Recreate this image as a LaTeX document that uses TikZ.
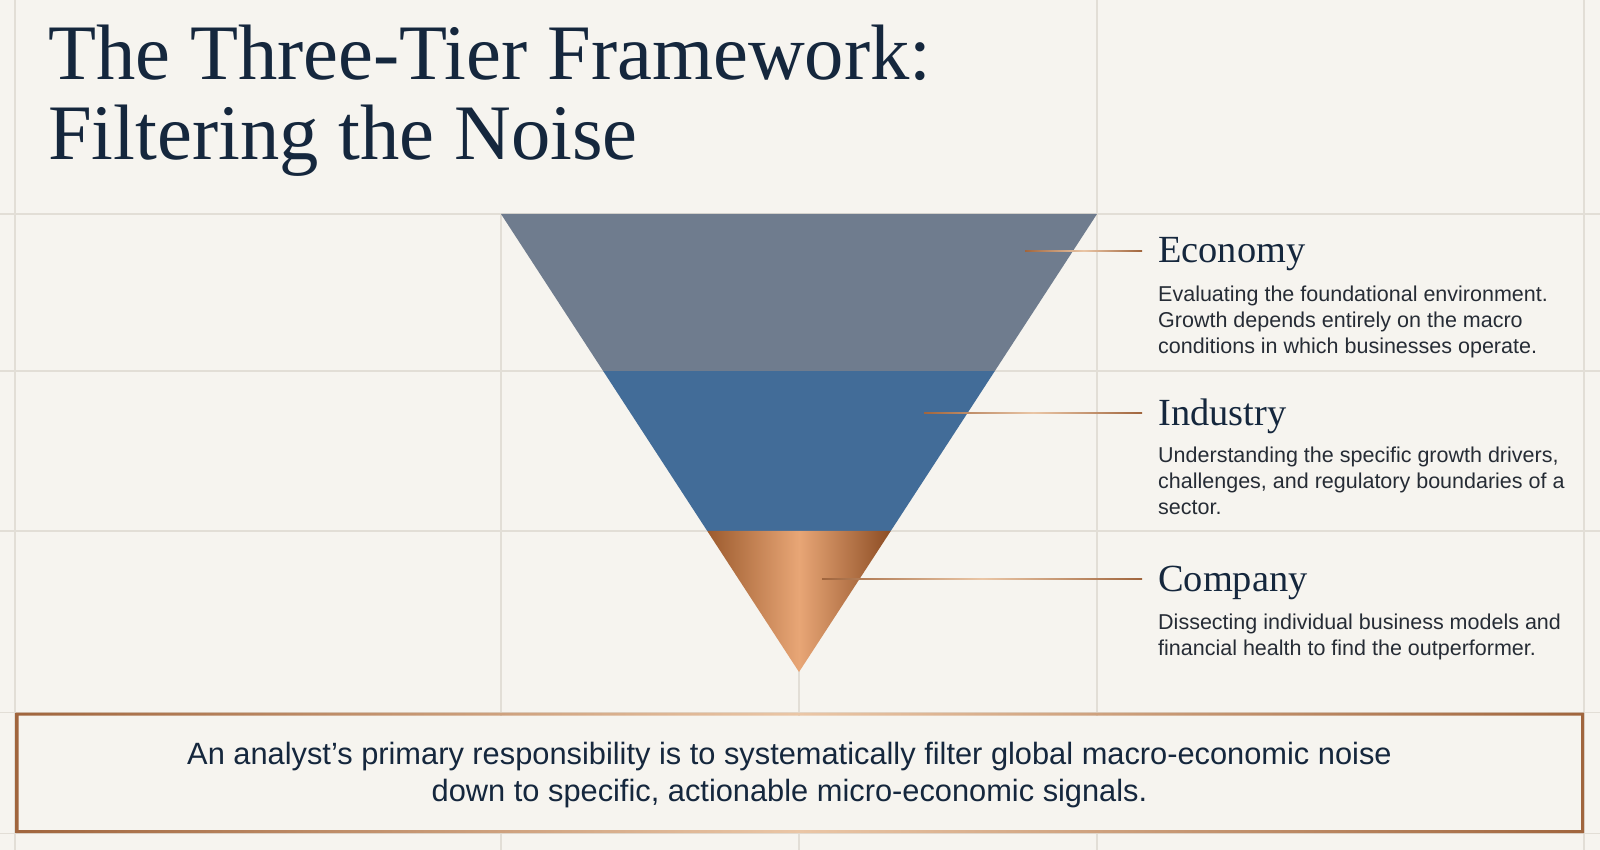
\documentclass[tikz,border=0pt]{standalone}
\usepackage{fontspec}
\setmainfont{Liberation Serif}
\setsansfont{Liberation Sans}
\usetikzlibrary{calc}
\definecolor{bg}{HTML}{F6F4EF}
\definecolor{gridc}{HTML}{E2DED6}
\definecolor{navy}{HTML}{15273D}
\definecolor{econc}{HTML}{6F7C8E}
\definecolor{indc}{HTML}{426C98}
\definecolor{copD}{HTML}{9C5B2E}
\definecolor{copL}{HTML}{E8A676}
\definecolor{copR}{HTML}{8C4D24}
\definecolor{lineD}{HTML}{A0653D}
\definecolor{lineL}{HTML}{EAC6A6}
\definecolor{txt}{HTML}{262C35}
\begin{document}
\begin{tikzpicture}[x=1pt,y=-1pt,
  gridline/.style={draw=gridc, line width=1.2pt},
  titletext/.style={font=\fontsize{78.6}{80}\selectfont, text=navy, inner sep=0, anchor=base west, align=left},
  tierhead/.style={font=\fontsize{38.4}{40}\selectfont, text=navy, inner sep=0, anchor=base west},
  tierdesc/.style={font=\sffamily\fontsize{21.5}{26}\selectfont, text=txt, inner sep=0, anchor=base west, align=left},
  msgtext/.style={font=\sffamily\fontsize{30.8}{37}\selectfont, text=navy, inner sep=0, anchor=base, align=center},
  copperline/.style={left color=lineD, right color=lineD, middle color=lineL},
]
\useasboundingbox (0,0) rectangle (1600,850);
\fill[bg] (0,0) rectangle (1600,850);
% grid
\foreach \y in {214,371,531,712.5,833.5} \draw[gridline] (0,\y) -- (1600,\y);
\foreach \x in {15,1097,1584} \draw[gridline] (\x,0) -- (\x,850);
\foreach \x in {501,799} \draw[gridline] (\x,214) -- (\x,850);
% title (anchor = baseline of last line)
\node[titletext] (title) at (48,160) {The Three-Tier Framework:\\Filtering the Noise};
% funnel
\coordinate (tl) at (501,214);
\coordinate (tr) at (1097,214);
\coordinate (tip) at (799,672);
\coordinate (l1) at ($(tl)!0.3428!(tip)$);
\coordinate (r1) at ($(tr)!0.3428!(tip)$);
\coordinate (l2) at ($(tl)!0.6921!(tip)$);
\coordinate (r2) at ($(tr)!0.6921!(tip)$);
\fill[econc] (tl) -- (tr) -- (r1) -- (l1) -- cycle;
\fill[indc] (l1) -- (r1) -- (r2) -- (l2) -- cycle;
\shade[left color=copD, right color=copR, middle color=copL] (l2) -- (r2) -- (tip) -- cycle;
% connectors
\coordinate (ea) at (1025,251); \coordinate (eb) at (1142,251);
\coordinate (ia) at (924,413);  \coordinate (ib) at (1142,413);
\coordinate (ca) at (822,579);  \coordinate (cb) at (1142,579);
\shade[copperline] ($(ea)+(0,-0.9)$) rectangle ($(eb)+(0,0.9)$);
\shade[copperline] ($(ia)+(0,-0.9)$) rectangle ($(ib)+(0,0.9)$);
\shade[copperline] ($(ca)+(0,-0.9)$) rectangle ($(cb)+(0,0.9)$);
% labels
\node[tierhead] (econ) at (1158,263) {Economy};
\node[tierdesc] (econd) at (1158,353.7) {Evaluating the foundational environment.\\Growth depends entirely on the macro\\conditions in which businesses operate.};
\node[tierhead] (ind) at (1158,425) {Industry};
\node[tierdesc] (indd) at (1158,514.7) {Understanding the specific growth drivers,\\challenges, and regulatory boundaries of a\\sector.};
\node[tierhead] (comp) at (1158,591.7) {Company};
\node[tierdesc] (compd) at (1158,655.3) {Dissecting individual business models and\\financial health to find the outperformer.};
% bottom box
\fill[bg] (18.5,715.5) rectangle (1581,830);
\shade[copperline, even odd rule] (15.5,712.5) rectangle (1584,833) (18.5,715.5) rectangle (1581,830);
\node[msgtext] (msg) at (789.5,801) {An analyst’s primary responsibility is to systematically filter global macro-economic noise\\down to specific, actionable micro-economic signals.};
\end{tikzpicture}
\end{document}
